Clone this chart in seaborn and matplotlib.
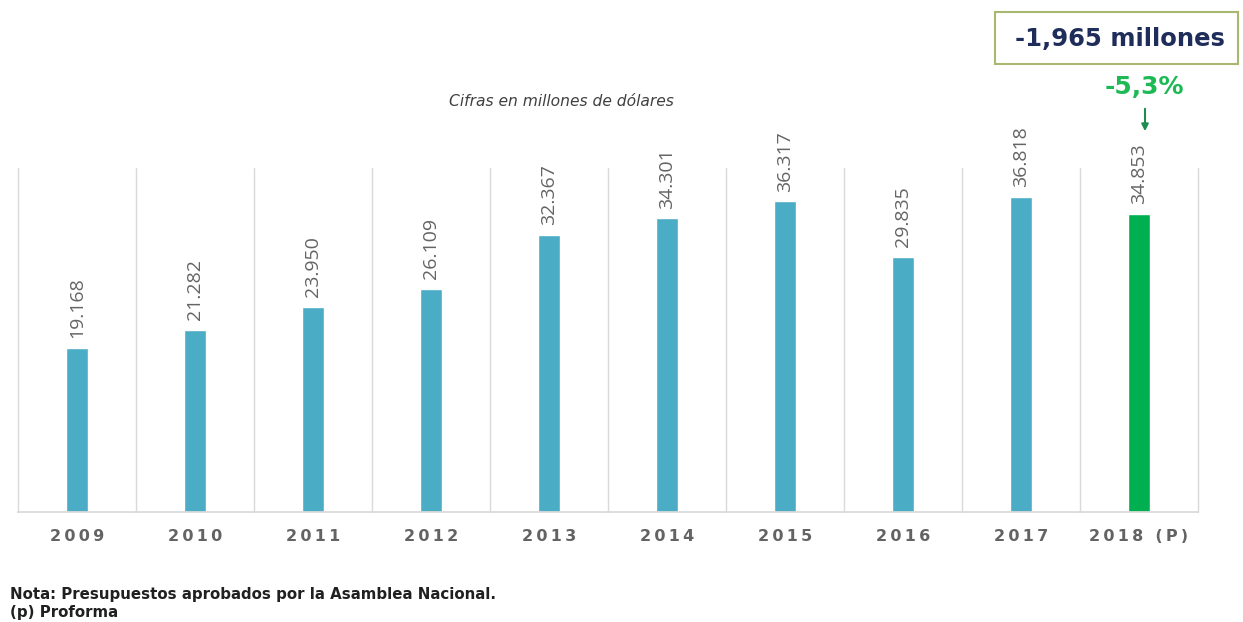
import matplotlib
matplotlib.use("Agg")
import matplotlib.pyplot as plt
import seaborn as sns
import pandas as pd
from matplotlib.patches import FancyBboxPatch

years = ["2009", "2010", "2011", "2012", "2013", "2014", "2015", "2016", "2017", "2018 (P)"]
values = [19168, 21282, 23950, 26109, 32367, 34301, 36317, 29835, 36818, 34853]
value_labels = ["19.168", "21.282", "23.950", "26.109", "32.367", "34.301", "36.317", "29.835", "36.818", "34.853"]
bar_colors = ["#4BACC6"] * 9 + ["#00B050"]

df = pd.DataFrame({"year": years, "value": values})

sns.set_theme(style="white")
plt.rcParams['font.family'] = ['DejaVu Sans']

fig = plt.figure(figsize=(12.43, 6.22), dpi=100)
ax = fig.add_axes([18/1243, 1 - 512/622, (1198-18)/1243, (512-168)/622])

sns.barplot(data=df, x="year", y="value", hue="year", palette=bar_colors,
            width=0.18, legend=False, ax=ax, saturation=1)

ax.set_ylim(0, 40200)
ax.set_xlim(-0.5, len(years) - 0.5)
ax.set_xlabel("")
ax.set_ylabel("")
ax.set_yticks([])
for b in [i - 0.5 for i in range(len(years) + 1)]:
    ax.axvline(b, color="#D9D9D9", lw=1, zorder=0, clip_on=False)
for s in ["top", "right", "left"]:
    ax.spines[s].set_visible(False)
ax.spines["bottom"].set_color("#D9D9D9")
ax.tick_params(axis="x", length=0, pad=12)
ax.set_xticks(range(len(years)))
ax.set_xticklabels(["\u2009".join(y) for y in years], fontsize=11.5,
                   fontweight="bold", color="#636363")

for i, (v, lab) in enumerate(zip(values, value_labels)):
    ax.annotate(lab, (i, v), xytext=(0, 7), textcoords="offset points",
                rotation=90, ha="center", va="bottom", fontsize=14,
                color="#646464", family=["Open Sans", "DejaVu Sans"])

fig.text(561/1243, 1 - 102/622, "Cifras en millones de dólares", ha="center", va="center",
         fontsize=11.2, style="italic", color="#404040")

box = FancyBboxPatch((995/1243, 1 - 64/622), (1238-995)/1243, (64-12)/622,
                     boxstyle="square,pad=0", transform=fig.transFigure,
                     facecolor="white", edgecolor="#A9B870", lw=1.5)
fig.patches.append(box)
fig.text(1120/1243, 1 - 39/622, "-1,965 millones", ha="center", va="center",
         fontsize=17.5, fontweight="bold", color="#1F2D5A")
fig.text(1144/1243, 1 - 87/622, "-5,3%", ha="center", va="center",
         fontsize=18, fontweight="bold", color="#1DB954")
fig.patches.append(matplotlib.patches.FancyArrowPatch(
    (1145/1243, 1 - 106/622), (1145/1243, 1 - 134/622), transform=fig.transFigure,
    arrowstyle="-|>", mutation_scale=10, color="#1E8C50", lw=1.5))

fig.text(10/1243, 1 - 594/622, "Nota: Presupuestos aprobados por la Asamblea Nacional.",
         ha="left", va="center", fontsize=10.8, fontweight="bold", color="#202020")
fig.text(10/1243, 1 - 612/622, "(p) Proforma",
         ha="left", va="center", fontsize=10.8, fontweight="bold", color="#202020")

fig.savefig("out.png", dpi=100)
